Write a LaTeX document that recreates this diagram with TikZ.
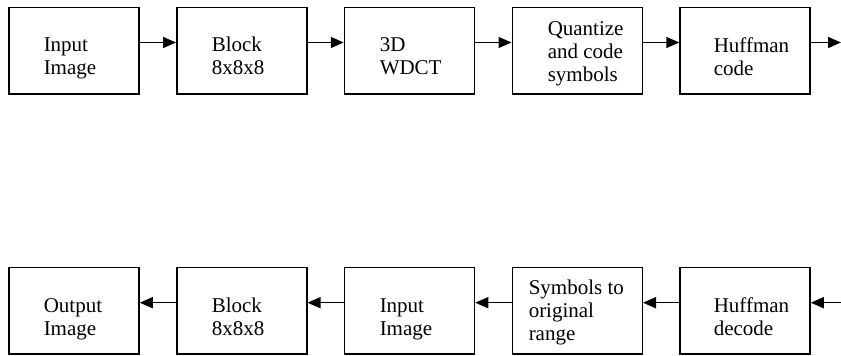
\documentclass[tikz,border=0pt]{standalone}
\usepackage{fontspec}
\setmainfont{Liberation Serif}
\usetikzlibrary{arrows.meta,positioning,calc}

\begin{document}
\begin{tikzpicture}[x=1pt,y=1pt,line width=1.5pt,>={Triangle[length=13pt,width=11pt]},
  block node/.style={rectangle,draw,minimum width=130pt,minimum height=86.5pt,inner sep=0pt},
  text node/.style={font=\fontsize{21}{23}\selectfont,align=left,anchor=base west,inner sep=0pt}]
          \useasboundingbox (0,0) rectangle (841,356);
          % encoder
          \node[block node] at (74,305.25) (b1) {};
          \node[block node] at (241.75,305.25) (b2) {};
          \node[block node] at (409.5,305.25) (b3) {};
          \node[block node] at (577.25,305.25) (b4) {};
          \node[block node] at (745,305.25) (b5) {};
          \node[text node] at (43,281) (tb1) {Input\\Image};
          \node[text node] at (211,281) (tb2) {Block\\8x8x8};
          \node[text node] at (379,281) (tb3) {3D\\WDCT};
          \node[text node] at (547,274) (tb4) {Quantize\\and code\\symbols};
          \node[text node] at (713,280) (tb5) {Huffman\\code};
          \coordinate (out) at (841,313.5);
          \draw[->] ([yshift=8.25]b1.east)--([yshift=8.25]b2.west);
          \draw[->] ([yshift=8.25]b2.east)--([yshift=8.25]b3.west);
          \draw[->] ([yshift=8.25]b3.east)--([yshift=8.25]b4.west);
          \draw[->] ([yshift=8.25]b4.east)--([yshift=8.25]b5.west);
          \draw[->] ([yshift=8.25]b5.east)--(out);
          % decoder
          \node[block node] at (74,45) (r1) {};
          \node[block node] at (241.75,45) (r2) {};
          \node[block node] at (409.5,45) (r3) {};
          \node[block node] at (577.25,45) (r4) {};
          \node[block node] at (745,45) (r5) {};
          \node[text node] at (43,20) (tr1) {Output\\Image};
          \node[text node] at (211,20) (tr2) {Block\\8x8x8};
          \node[text node] at (379,20) (tr3) {Input\\Image};
          \node[text node] at (528,15) (tr4) {Symbols to\\original\\range};
          \node[text node] at (713,20) (tr5) {Huffman\\decode};
          \coordinate (in) at (841,53.3);
          \draw[->] (in)--([yshift=8.3]r5.east);
          \draw[->] ([yshift=8.3]r5.west)--([yshift=8.3]r4.east);
          \draw[->] ([yshift=8.3]r4.west)--([yshift=8.3]r3.east);
          \draw[->] ([yshift=8.3]r3.west)--([yshift=8.3]r2.east);
          \draw[->] ([yshift=8.3]r2.west)--([yshift=8.3]r1.east);
        \end{tikzpicture}
\end{document}
